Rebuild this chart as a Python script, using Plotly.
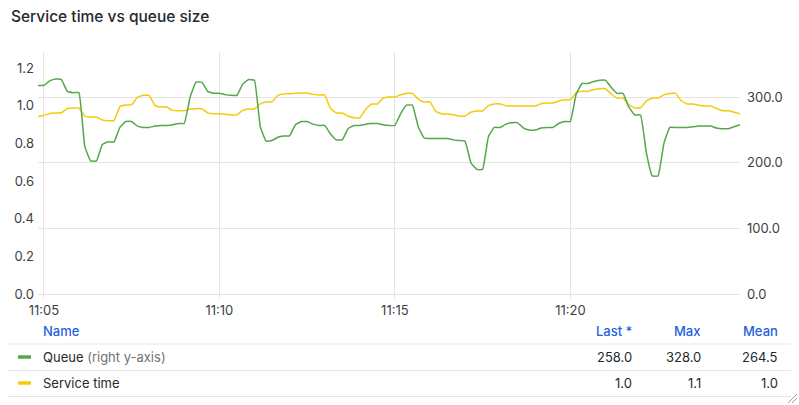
import plotly.graph_objects as go
import pandas as pd

# ---- data (10 s samples, 11:04:50 -> 11:24:50) ----
start_time = "2024-01-01 11:04:50"
sample_seconds = 10

queue = [318, 318, 325, 328, 327, 309, 307, 307, 225, 203,
         203, 228, 232, 232, 254, 263, 263, 256, 254, 254,
         256, 257, 257, 258, 260, 260, 300, 323, 323, 309,
         306, 306, 304, 303, 303, 320, 327, 326, 255, 233,
         234, 239, 241, 241, 258, 263, 263, 259, 257, 257,
         244, 235, 235, 252, 257, 257, 259, 260, 260, 258,
         257, 257, 275, 288, 288, 255, 238, 237, 237, 237,
         237, 235, 234, 233, 200, 190, 190, 240, 254, 254,
         259, 261, 261, 253, 250, 250, 253, 254, 254, 260,
         263, 263, 305, 321, 321, 324, 326, 326, 315, 306,
         306, 285, 273, 273, 215, 180, 180, 230, 254, 254,
         254, 254, 255, 256, 256, 256, 253, 252, 252, 255,
         258]

service_time = [0.943, 0.948, 0.958, 0.961, 0.962, 0.985, 0.988, 0.987, 0.945, 0.940,
                0.940, 0.924, 0.920, 0.921, 0.995, 1.004, 1.004, 1.045, 1.055, 1.055,
                1.000, 0.993, 0.993, 0.975, 0.973, 0.973, 0.982, 0.984, 0.984, 0.962,
                0.957, 0.957, 0.955, 0.951, 0.951, 0.975, 0.982, 0.982, 1.010, 1.020,
                1.020, 1.055, 1.062, 1.063, 1.066, 1.067, 1.067, 1.060, 1.057, 1.057,
                0.985, 0.961, 0.961, 0.945, 0.936, 0.936, 0.980, 1.009, 1.009, 1.040,
                1.046, 1.046, 1.058, 1.065, 1.065, 1.035, 1.020, 1.020, 0.970, 0.956,
                0.956, 0.952, 0.945, 0.945, 0.965, 0.972, 0.972, 1.000, 1.009, 1.009,
                1.000, 0.998, 0.998, 0.998, 0.998, 0.998, 1.010, 1.014, 1.014, 1.025,
                1.032, 1.032, 1.068, 1.076, 1.076, 1.085, 1.090, 1.090, 1.062, 1.041,
                1.041, 1.005, 0.988, 0.988, 1.025, 1.041, 1.041, 1.058, 1.065, 1.065,
                1.025, 1.009, 1.009, 1.002, 0.998, 0.998, 0.985, 0.973, 0.973, 0.965,
                0.957]

x_tick_times = ["2024-01-01 11:05", "2024-01-01 11:10", "2024-01-01 11:15", "2024-01-01 11:20"]
x_tick_labels = ["11:05", "11:10", "11:15", "11:20"]
left_ticks = [0.0, 0.2, 0.4, 0.6, 0.8, 1.0, 1.2]
right_ticks = [0, 100, 200, 300]

legend_names = ["Queue", "Service time"]
legend_last = ["258.0", "1.0"]
legend_max = ["328.0", "1.1"]
legend_mean = ["264.5", "1.0"]

GREEN = "#56a64b"
YELLOW = "#f2cc0c"
GRID = "#e4e4e4"
TEXT = "#3b3f45"
BLUE = "#1f62e0"
FONT = "Inter"

times = pd.date_range(start_time, periods=len(queue), freq=f"{sample_seconds}s")

fig = go.Figure()
fig.add_trace(go.Scatter(x=times, y=service_time, mode="lines", name="Service time",
                         line=dict(color=YELLOW, width=1.5, shape="spline", smoothing=0.3),
                         yaxis="y"))
fig.add_trace(go.Scatter(x=times, y=queue, mode="lines", name="Queue",
                         line=dict(color=GREEN, width=1.5, shape="spline", smoothing=0.3),
                         yaxis="y2"))

W, H = 799, 405
L, R, T, B = 38, 740, 52, 294


def px(x):
    return (x - L) / (R - L)


def py(y):
    return (B - y) / (B - T)


fig.update_layout(
    width=W, height=H,
    margin=dict(l=L, r=W - R, t=T, b=H - B),
    paper_bgcolor="white", plot_bgcolor="white",
    showlegend=False,
    font=dict(family=FONT, size=13, color=TEXT),
    xaxis=dict(range=[times[0], times[-1]], tickvals=x_tick_times, ticktext=x_tick_labels,
               showgrid=True, gridcolor=GRID, gridwidth=1, zeroline=False, showline=False,
               ticks="outside", ticklen=4, tickcolor=GRID,
               tickfont=dict(size=13, color=TEXT)),
    yaxis=dict(range=[0, 1.285], tickvals=left_ticks,
               ticktext=[f"{v:.1f}" for v in left_ticks],
               showgrid=False, zeroline=False, showline=False,
               tickfont=dict(size=13, color=TEXT), ticklabelstandoff=3),
    yaxis2=dict(range=[0, 369], tickvals=right_ticks,
                ticktext=[f"{v:.1f}" for v in right_ticks],
                overlaying="y", side="right",
                showgrid=True, gridcolor=GRID, gridwidth=1,
                zeroline=True, zerolinecolor=GRID, zerolinewidth=1, showline=False,
                tickfont=dict(size=13, color=TEXT), ticklabelstandoff=6),
)

anns = []
shapes = []
# title
anns.append(dict(text="Service time vs queue size", xref="paper", yref="paper",
                 x=px(9), y=py(17), xanchor="left", yanchor="middle", showarrow=False,
                 font=dict(size=15.5, color="#24292e", family=FONT, weight=500)))

# legend table header
hdr_y = py(330.5)
anns.append(dict(text="Name", xref="paper", yref="paper", x=px(41), y=hdr_y,
                 xanchor="left", yanchor="middle", showarrow=False,
                 font=dict(size=13, color=BLUE, family=FONT, weight=500)))
for label, xr in [("Last *", 634), ("Max", 703), ("Mean", 780)]:
    anns.append(dict(text=label, xref="paper", yref="paper", x=px(xr), y=hdr_y,
                     xanchor="right", yanchor="middle", showarrow=False,
                     font=dict(size=13, color=BLUE, family=FONT, weight=500)))

for sep in [344, 370.5, 396.5]:
    shapes.append(dict(type="line", xref="paper", yref="paper", x0=px(8), x1=px(791),
                       y0=py(sep), y1=py(sep), line=dict(color="#e6e6e6", width=1)))

row_ys = [357, 383]
colors = [GREEN, YELLOW]
name_texts = ["Queue <span style='color:#6e7378'>(right y-axis)</span>", "Service time"]
for i in range(2):
    ry = py(row_ys[i])
    shapes.append(dict(type="line", xref="paper", yref="paper", x0=px(18), x1=px(31),
                       y0=ry, y1=ry, line=dict(color=colors[i], width=3.5)))
    anns.append(dict(text=name_texts[i], xref="paper", yref="paper", x=px(41), y=ry,
                     xanchor="left", yanchor="middle", showarrow=False,
                     font=dict(size=13, color="#24292e", family=FONT)))
    for val, xr in [(legend_last[i], 634), (legend_max[i], 703), (legend_mean[i], 780)]:
        anns.append(dict(text=val, xref="paper", yref="paper", x=px(xr), y=ry,
                         xanchor="right", yanchor="middle", showarrow=False,
                         font=dict(size=13, color="#24292e", family=FONT)))

# resize handle
for a in [788, 792]:
    shapes.append(dict(type="line", xref="paper", yref="paper",
                       x0=px(a), y0=py(403), x1=px(797), y1=py(403 - (797 - a)),
                       line=dict(color="#9aa0a6", width=1)))

fig.update_layout(annotations=anns, shapes=shapes)
fig.write_html("out.html", config={"displayModeBar": False},
               post_script="document.body.style.margin='0';document.body.style.overflow='hidden';")
